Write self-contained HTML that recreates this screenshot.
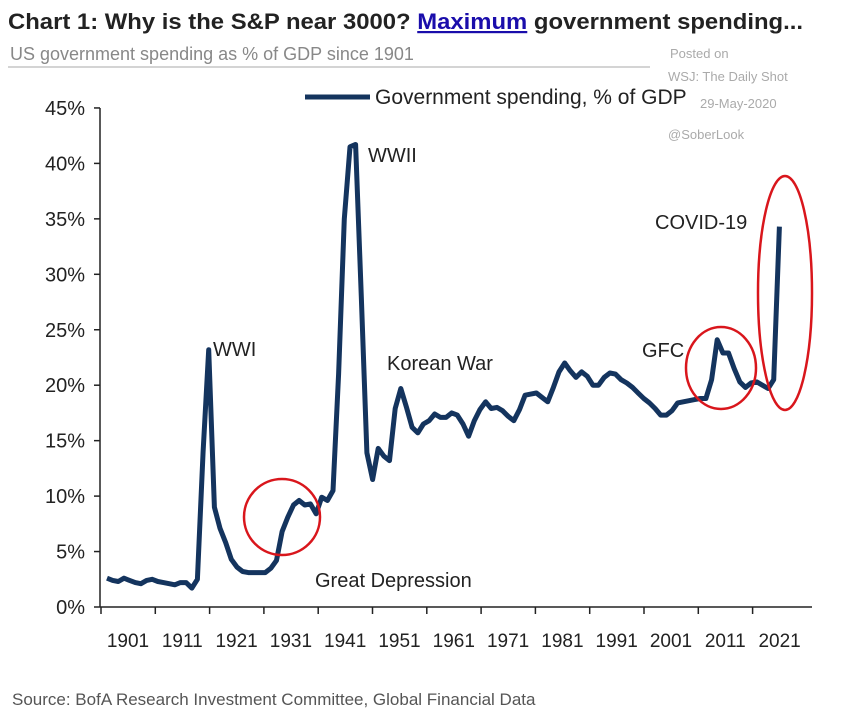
<!DOCTYPE html>
<html><head><meta charset="utf-8"><style>
body{margin:0;background:#fff;font-family:"Liberation Sans",sans-serif;}
svg text{font-family:"Liberation Sans",sans-serif;}
</style></head><body>
<svg id="c" width="851" height="717">
<text x="8" y="29" font-size="22" font-weight="bold" fill="#222" textLength="795" lengthAdjust="spacingAndGlyphs">Chart 1: Why is the S&amp;P near 3000? <tspan fill="#1a0dab" text-decoration="underline">Maximum</tspan> government spending...</text>
<text x="10" y="60" font-size="18" fill="#888">US government spending as % of GDP since 1901</text>
<line x1="8" y1="67" x2="650" y2="67" stroke="#aaa" stroke-width="1"/>
<g fill="#aaa" font-size="13">
<text x="670" y="58">Posted on</text>
<text x="668" y="81">WSJ: The Daily Shot</text>
<text x="700" y="108">29-May-2020</text>
<text x="668" y="139">@SoberLook</text>
</g>
<line x1="305" y1="97" x2="370" y2="97" stroke="#14345e" stroke-width="5"/>
<text x="375" y="104" font-size="21" fill="#222">Government spending, % of GDP</text>
<g id="axes"></g>
<path id="line" fill="none" stroke="#14345e" stroke-width="5" stroke-linejoin="round"/>
<g font-size="20" fill="#222">
<text x="213" y="356">WWI</text>
<text x="368" y="162">WWII</text>
<text x="387" y="370">Korean War</text>
<text x="315" y="587">Great Depression</text>
<text x="642" y="357">GFC</text>
<text x="655" y="229">COVID-19</text>
</g>
<g fill="none" stroke="#d9161c" stroke-width="2.5">
<circle cx="282" cy="517" r="38"/>
<ellipse cx="721" cy="368" rx="35" ry="41"/>
<ellipse cx="785" cy="293" rx="27" ry="117"/>
</g>
<text x="12" y="705" font-size="17" fill="#555">Source: BofA Research Investment Committee, Global Financial Data</text>
</svg>
<script>
const years=[];for(let y=1901;y<=2020;y++)years.push(y);
const values=[
2.6,2.4,2.3,2.6,2.4,2.2,2.1,2.4,2.5,2.3,
2.2,2.1,2.0,2.2,2.2,1.7,2.5,14,23.2,9,
7.1,5.8,4.3,3.6,3.2,3.1,3.1,3.1,3.1,3.5,
4.2,6.8,8.1,9.2,9.6,9.2,9.3,8.4,9.9,9.6,
10.5,21,35,41.5,41.7,28,13.9,11.5,14.3,13.6,
13.2,17.9,19.7,18,16.2,15.7,16.5,16.8,17.4,17.1,
17.1,17.5,17.3,16.5,15.4,16.8,17.8,18.5,17.9,18.0,
17.7,17.2,16.8,17.8,19.1,19.2,19.3,18.9,18.5,19.8,
21.2,22,21.3,20.7,21.2,20.8,20.0,20.0,20.7,21.1,
21.0,20.5,20.2,19.8,19.3,18.8,18.4,17.9,17.3,17.3,
17.7,18.4,18.5,18.6,18.7,18.8,18.8,20.5,24.1,22.9,
22.9,21.5,20.3,19.8,20.2,20.3,20.0,19.7,20.5,34.3];
const yTicks=[0,5,10,15,20,25,30,35,40,45];
const xTicks=[1901,1911,1921,1931,1941,1951,1961,1971,1981,1991,2001,2011,2021];
const NS='http://www.w3.org/2000/svg';
const x=y=>107+(y-1901)*5.65;
const xl=y=>128+(y-1901)*5.43;
const yv=v=>607-v*11.09;
const ax=document.getElementById('axes');
function mk(t,a){const e=document.createElementNS(NS,t);for(const k in a)e.setAttribute(k,a[k]);ax.appendChild(e);return e;}
let l=mk('line',{x1:100,y1:yv(0),x2:812,y2:yv(0),stroke:'#222','stroke-width':1.5});


let l2=mk('line',{x1:100,y1:yv(0),x2:100,y2:yv(45),stroke:'#222','stroke-width':1.5});


yTicks.forEach(v=>{
 const tk=mk('line',{x1:94,y1:yv(v),x2:100,y2:yv(v),stroke:'#222','stroke-width':1.5});
 
 
 const t=mk('text',{x:85,y:yv(v)+7,'text-anchor':'end','font-size':20,fill:'#222'});
 t.textContent=v+'%';
 
 
});
xTicks.forEach((yr,i)=>{
 const px=xl(yr);
 const tk=mk('line',{x1:px-27,y1:yv(0),x2:px-27,y2:yv(0)+7,stroke:'#222','stroke-width':1.5});
 
 
 const t=mk('text',{x:px,y:647,'text-anchor':'middle','font-size':19,fill:'#222'});
 t.textContent=yr;
 
 
});
document.getElementById('line').setAttribute('d',values.map((v,i)=>(i?'L':'M')+x(years[i]).toFixed(1)+' '+yv(v).toFixed(1)).join(' '));
</script>
</body></html>
